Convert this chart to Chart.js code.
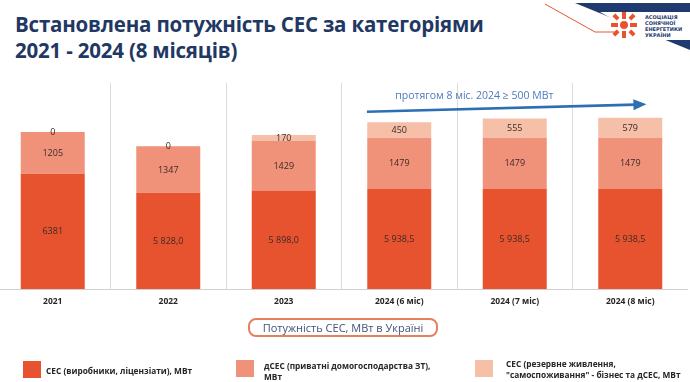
<!DOCTYPE html>
<html lang="uk">
<head>
  <meta charset="UTF-8">
  <title>Встановлена потужність СЕС</title>
  <script src="https://cdn.jsdelivr.net/npm/chart.js@4.4.1/dist/chart.umd.min.js"></script>
  <style>
    body { margin: 0; width: 690px; height: 382px; overflow: hidden; background: #fff; font-family: "Open Sans", sans-serif; position: relative; }
    #title { position: absolute; left: 15px; top: 11px; color: #1f3864; font-weight: 700; font-size: 20.5px; line-height: 26px; letter-spacing: -0.2px; }
    #chart-box { position: absolute; left: -5px; top: 0; width: 693px; height: 382px; }
    #caption { position: absolute; left: 248px; top: 318px; width: 186px; height: 15px; border: 2px solid #e2805f; border-radius: 8px; color: #44507a; font-size: 11px; line-height: 15px; text-align: center; }
    .leg { position: absolute; font-size: 8.3px; font-weight: 700; color: #262626; line-height: 11px; }
    .leg span { position: absolute; left: 0; width: 18px; height: 17px; }
    .leg div { position: absolute; white-space: nowrap; }
    #logo { position: absolute; left: 540px; top: 0; }
  </style>
</head>
<body>
  <div id="title">Встановлена потужність СЕС за категоріями<br>2021 - 2024 (8 місяців)</div>

  <svg id="logo" width="150" height="55">
    <polygon points="35,3 150,3 150,50" fill="#1f3a6e"/>
    <polygon points="60,12 150,12 150,40 110,40" fill="#ffffff"/>
    <polyline points="5,4 55,32 75,32" fill="none" stroke="#e4572e" stroke-width="1"/>
    <g fill="#e8532f">
      <circle cx="84" cy="25" r="4"/>
      <rect x="82" y="12" width="4" height="7"/>
      <rect x="82" y="31" width="4" height="7"/>
      <rect x="71" y="23" width="7" height="4"/>
      <rect x="90" y="23" width="7" height="4"/>
      <rect x="73" y="15" width="6" height="4" transform="rotate(45 76 17)"/>
      <rect x="89" y="31" width="6" height="4" transform="rotate(45 92 33)"/>
      <rect x="89" y="15" width="6" height="4" transform="rotate(-45 92 17)"/>
      <rect x="73" y="31" width="6" height="4" transform="rotate(-45 76 33)"/>
    </g>
    <g fill="#1f3a6e" font-family="DejaVu Sans" font-weight="700" font-size="5px">
      <text x="105" y="19">АСОЦІАЦІЯ</text>
      <text x="105" y="25">СОНЯЧНОЇ</text>
      <text x="105" y="31">ЕНЕРГЕТИКИ</text>
      <text x="105" y="37">УКРАЇНИ</text>
    </g>
  </svg>

  <div id="chart-box"><canvas id="chart"></canvas></div>

  <div id="caption">Потужність СЕС, МВт в Україні</div>

  <div class="leg" style="left:23px; top:361px;"><span style="background:#e8532f;"></span><div style="left:23px; top:4px;">СЕС (виробники, ліцензіати), МВт</div></div>
  <div class="leg" style="left:236px; top:360px;"><span style="background:#f0917a;"></span><div style="left:28px; top:0px;">дСЕС (приватні домогосподарства ЗТ),<br>МВт</div></div>
  <div class="leg" style="left:475px; top:360px;"><span style="background:#f6bfa8;"></span><div style="left:31px; top:-2px;">СЕС (резервне живлення,<br>"самоспоживання" - бізнес та дСЕС, МВт</div></div>

  <script>
    // categories and values
    var categories = ['2021', '2022', '2023', '2024 (6 міс)', '2024 (7 міс)', '2024 (8 міс)'];
    var licensed = [6381, 5828, 5898, 5938.5, 5938.5, 5938.5];
    var household = [1205, 1347, 1429, 1479, 1479, 1479];
    var backup = [0, 0, 170, 450, 555, 579];
    var licensedText = ['6381', '5 828,0', '5 898,0', '5 938,5', '5 938,5', '5 938,5'];
    var householdText = ['1205', '1347', '1429', '1479', '1479', '1479'];
    var backupText = ['0', '0', '170', '450', '555', '579'];

    // arrow annotation (category index, value)
    var arrowFrom = [2.72, 8170];
    var arrowTo = [5.14, 8385];
    var arrowText = 'протягом 8 міс. 2024 ≥ 500 МВт';
    var arrowTextAt = [3.65, 8625];

    var labelTexts = [licensedText, householdText, backupText];

    var barLabels = {
      id: 'barLabels',
      afterDatasetsDraw: function(chart) {
        var ctx = chart.ctx;
        var area = chart.chartArea;
        ctx.save();
        ctx.font = '9px "Open Sans"';
        ctx.fillStyle = '#3b2b28';
        ctx.textAlign = 'center';
        ctx.textBaseline = 'middle';
        chart.data.datasets.forEach(function(ds, i) {
          chart.getDatasetMeta(i).data.forEach(function(el, j) {
            var top = Math.max(Math.min(el.y, el.base), area.top);
            var bottom = Math.min(Math.max(el.y, el.base), area.bottom);
            ctx.fillText(labelTexts[i][j], el.x, (top + bottom) / 2 + 0.5);
          });
        });
        ctx.restore();
      }
    };

    var trendArrow = {
      id: 'trendArrow',
      afterDatasetsDraw: function(chart) {
        var ctx = chart.ctx;
        var xs = chart.scales.x, ys = chart.scales.y;
        var x1 = xs.getPixelForValue(arrowFrom[0]), y1 = ys.getPixelForValue(arrowFrom[1]);
        var x2 = xs.getPixelForValue(arrowTo[0]), y2 = ys.getPixelForValue(arrowTo[1]);
        var ang = Math.atan2(y2 - y1, x2 - x1);
        ctx.save();
        ctx.strokeStyle = '#2e6fb4';
        ctx.fillStyle = '#2e6fb4';
        ctx.lineWidth = 2.6;
        ctx.beginPath();
        ctx.moveTo(x1, y1);
        ctx.lineTo(x2 - 11 * Math.cos(ang), y2 - 11 * Math.sin(ang));
        ctx.stroke();
        ctx.beginPath();
        ctx.moveTo(x2, y2);
        ctx.lineTo(x2 - 13 * Math.cos(ang) + 5.5 * Math.sin(ang), y2 - 13 * Math.sin(ang) - 5.5 * Math.cos(ang));
        ctx.lineTo(x2 - 13 * Math.cos(ang) - 5.5 * Math.sin(ang), y2 - 13 * Math.sin(ang) + 5.5 * Math.cos(ang));
        ctx.closePath();
        ctx.fill();
        ctx.font = '10.5px "Open Sans"';
        ctx.fillStyle = '#4e7bbd';
        ctx.textAlign = 'center';
        ctx.textBaseline = 'middle';
        ctx.fillText(arrowText, xs.getPixelForValue(arrowTextAt[0]), ys.getPixelForValue(arrowTextAt[1]));
        ctx.restore();
      }
    };

    new Chart(document.getElementById('chart'), {
      type: 'bar',
      data: {
        labels: categories,
        datasets: [
          { label: 'СЕС (виробники, ліцензіати), МВт', data: licensed, backgroundColor: '#e8532f' },
          { label: 'дСЕС (приватні домогосподарства ЗТ), МВт', data: household, backgroundColor: '#f0917a' },
          { label: 'СЕС (резервне живлення, "самоспоживання" - бізнес та дСЕС, МВт', data: backup, backgroundColor: '#f6bfa8' }
        ]
      },
      options: {
        responsive: true,
        maintainAspectRatio: false,
        animation: false,
        events: [],
        layout: { padding: { top: 83, bottom: 73, left: 0, right: 0 } },
        datasets: { bar: { categoryPercentage: 1, barPercentage: 0.554 } },
        plugins: { legend: { display: false }, tooltip: { enabled: false } },
        scales: {
          x: {
            stacked: true,
            grid: { color: '#dcdcdc', drawTicks: false, offset: true },
            border: { display: true, color: '#d0d0d0' },
            ticks: { color: '#262626', font: { family: 'Open Sans', size: 8.5, weight: 'bold' }, padding: 7, maxRotation: 0 },
            afterFit: function(s) { s.height = 20; }
          },
          y: {
            stacked: true,
            display: false,
            min: 3050,
            max: 9000
          }
        }
      },
      plugins: [barLabels, trendArrow]
    });
  </script>
</body>
</html>
